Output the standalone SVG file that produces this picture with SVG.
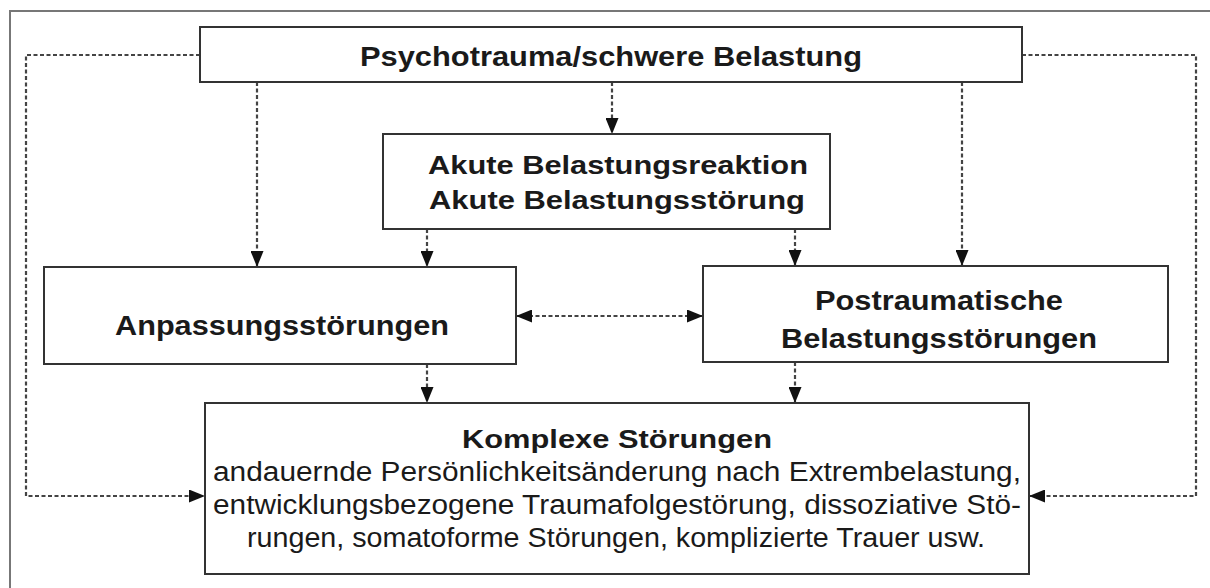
<svg xmlns="http://www.w3.org/2000/svg" width="1210" height="588" viewBox="0 0 1210 588">
<defs>
<marker id="ah" viewBox="0 0 16 13" refX="16" refY="6.5" markerWidth="16" markerHeight="13" markerUnits="userSpaceOnUse" orient="auto-start-reverse">
<path d="M0,0 L16,6.5 L0,13 Z" fill="#111"/>
</marker>
<style>
.box{fill:#fff;stroke:#333;stroke-width:2}
.frame{fill:none;stroke:#777;stroke-width:2}
.dl{fill:none;stroke:#444;stroke-width:2.2;stroke-dasharray:4 2.5}
.b{font-family:"Liberation Sans",Arial,sans-serif;font-weight:bold;fill:#1a1a1a;text-anchor:middle}
.r{font-family:"Liberation Sans",Arial,sans-serif;fill:#1a1a1a;text-anchor:middle}
</style>
</defs>
<rect width="1210" height="588" fill="#fff"/>
<path class="frame" d="M10,590 L10,11 L1212,11"/>
<g id="connectors">
<path class="dl" d="M200,55 L26,55 L26,496 L205,496" marker-end="url(#ah)"/>
<path class="dl" d="M1022,55 L1196,55 L1196,496 L1029,496" marker-end="url(#ah)"/>
<path class="dl" d="M257,82 L257,267" marker-end="url(#ah)"/>
<path class="dl" d="M612,82 L612,134" marker-end="url(#ah)"/>
<path class="dl" d="M962,82 L962,266" marker-end="url(#ah)"/>
<path class="dl" d="M427,229 L427,267" marker-end="url(#ah)"/>
<path class="dl" d="M795,229 L795,266" marker-end="url(#ah)"/>
<path class="dl" d="M516,316 L703,316" marker-start="url(#ah)" marker-end="url(#ah)"/>
<path class="dl" d="M427,364 L427,403" marker-end="url(#ah)"/>
<path class="dl" d="M795,362 L795,403" marker-end="url(#ah)"/>
</g>
<g id="psychotrauma">
<rect class="box" x="200" y="27" width="822" height="55"/>
<text class="b" x="611" y="66" font-size="28" textLength="502" lengthAdjust="spacingAndGlyphs">Psychotrauma/schwere Belastung</text>
</g>
<g id="akute">
<rect class="box" x="383" y="134" width="447" height="95"/>
<text class="b" x="618" y="174" font-size="26" textLength="380" lengthAdjust="spacingAndGlyphs">Akute Belastungsreaktion</text>
<text class="b" x="617" y="209" font-size="26" textLength="376" lengthAdjust="spacingAndGlyphs">Akute Belastungsstörung</text>
</g>
<g id="anpassung">
<rect class="box" x="44" y="267" width="472" height="97"/>
<text class="b" x="282" y="335" font-size="27" textLength="334" lengthAdjust="spacingAndGlyphs">Anpassungsstörungen</text>
</g>
<g id="postraum">
<rect class="box" x="703" y="266" width="465" height="96"/>
<text class="b" x="939" y="310" font-size="27" textLength="248" lengthAdjust="spacingAndGlyphs">Postraumatische</text>
<text class="b" x="939" y="348" font-size="27" textLength="316" lengthAdjust="spacingAndGlyphs">Belastungsstörungen</text>
</g>
<g id="komplexe">
<rect class="box" x="205" y="403" width="824" height="171"/>
<text class="b" x="617" y="448" font-size="26" textLength="310" lengthAdjust="spacingAndGlyphs">Komplexe Störungen</text>
<text class="r" x="617" y="481" font-size="27" textLength="808" lengthAdjust="spacingAndGlyphs">andauernde Persönlichkeitsänderung nach Extrembelastung,</text>
<text class="r" x="617" y="514" font-size="27" textLength="808" lengthAdjust="spacingAndGlyphs">entwicklungsbezogene Traumafolgestörung, dissoziative Stö-</text>
<text class="r" x="616" y="547" font-size="27" textLength="738" lengthAdjust="spacingAndGlyphs">rungen, somatoforme Störungen, komplizierte Trauer usw.</text>
</g>
</svg>
